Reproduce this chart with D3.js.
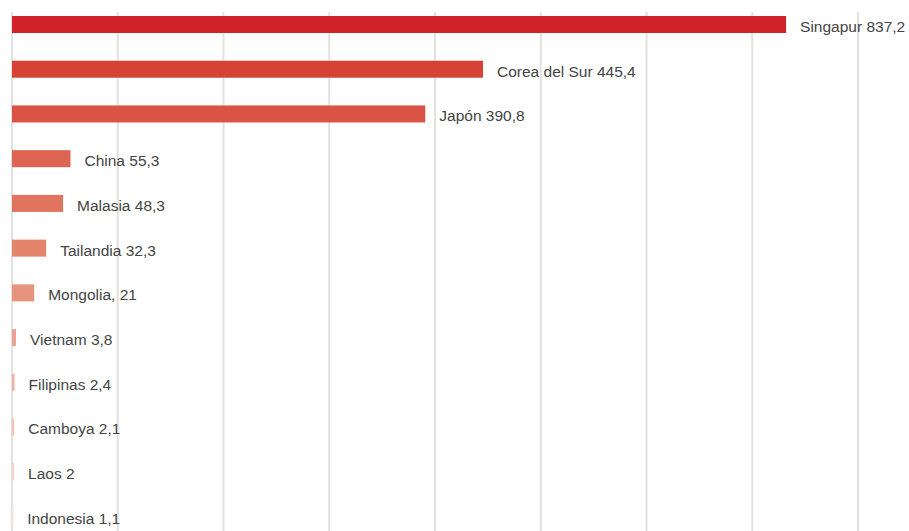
<!DOCTYPE html>
<html>
<head>
<meta charset="utf-8">
<script src="https://cdn.jsdelivr.net/npm/d3@7"></script>
<style>
  html, body { margin: 0; padding: 0; background: #fff; }
  svg { display: block; }
</style>
</head>
<body>
<svg id="chart"></svg>
<script>
// countries, top to bottom
const countries = [
  "Singapur", "Corea del Sur", "Japón", "China", "Malasia", "Tailandia",
  "Mongolia,", "Vietnam", "Filipinas", "Camboya", "Laos", "Indonesia",
];
const values = [837.2, 445.4, 390.8, 55.3, 48.3, 32.3, 21, 3.8, 2.4, 2.1, 2, 1.1];
// grid every 100 units
const gridTicks = [0, 100, 200, 300, 400, 500, 600, 700, 800];
// bars longer than this get cut so the label still fits
const barCap = 732;

const width = 909;
const height = 531;
const margin = { top: 12, left: 12 };
const barHeight = 17;

const data = countries.map((name, i) => ({ name, value: values[i] }));

const svg = d3.select("#chart").attr("width", width).attr("height", height);

const x = d3.scaleLinear().domain([0, 800]).range([margin.left, 858]);
const y = d3.scalePoint().domain(countries).range([24.5, 516.5]);
// red -> pale pink down the ranking
const color = d3
  .scaleLinear()
  .domain([0, 1, 5, countries.length - 1])
  .range(["#d2232a", "#d64336", "#e4846c", "#f8e4da"]);

const fmt = (v) => String(v).replace(".", ",");

svg
  .append("g")
  .selectAll("line")
  .data(gridTicks)
  .join("line")
  .attr("x1", (d) => x(d))
  .attr("x2", (d) => x(d))
  .attr("y1", margin.top)
  .attr("y2", height)
  .attr("stroke", "#e1e1e1")
  .attr("stroke-width", 2);

const barEnd = (d) => x(Math.min(d.value, barCap));

svg
  .append("g")
  .selectAll("rect")
  .data(data)
  .join("rect")
  .attr("x", x(0))
  .attr("y", (d) => y(d.name) - barHeight / 2)
  .attr("width", (d) => Math.max(1.5, barEnd(d) - x(0)))
  .attr("height", barHeight)
  .attr("fill", (d, i) => color(i));

svg
  .append("g")
  .selectAll("text")
  .data(data)
  .join("text")
  .attr("x", (d) => barEnd(d) + 14)
  .attr("y", (d) => y(d.name) + 2)
  .attr("dy", "0.35em")
  .attr("font-family", "'Liberation Sans', Arial, sans-serif")
  .attr("font-size", 15.5)
  .attr("fill", "#444")
  .text((d) => `${d.name} ${fmt(d.value)}`);
</script>
</body>
</html>
